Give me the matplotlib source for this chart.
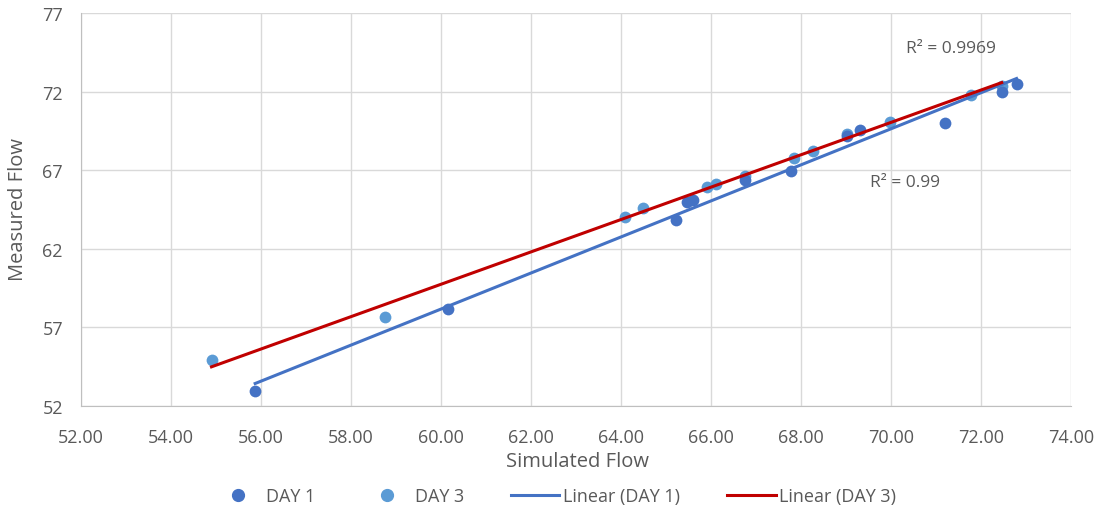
import numpy as np
import matplotlib
matplotlib.use("Agg")
import matplotlib.pyplot as plt
from matplotlib.lines import Line2D

plt.rcParams['font.family'] = ['Open Sans', 'DejaVu Sans']

# DAY 1 (simulated, measured)
day1_x = [55.87, 60.16, 65.22, 65.47, 65.61, 66.76, 67.77, 69.02, 69.30, 71.20, 72.46, 72.79]
day1_y = [52.93, 58.14, 63.84, 65.00, 65.13, 66.35, 66.98, 69.20, 69.58, 70.00, 71.96, 72.49]
# DAY 3
day3_x = [54.90, 58.76, 64.09, 64.48, 65.90, 66.11, 66.76, 67.85, 68.27, 69.02, 69.98, 71.77, 72.46]
day3_y = [54.90, 57.66, 64.02, 64.59, 65.92, 66.13, 66.60, 67.80, 68.25, 69.30, 70.05, 71.80, 72.38]

x_ticks = np.arange(52, 74.1, 2)
y_ticks = [52, 57, 62, 67, 72, 77]

c_day1 = '#4472C4'
c_day3 = '#5B9BD5'
c_red = '#C00000'
txt = '#595959'

W, H = 1100, 510
fig = plt.figure(figsize=(11, 5.1), dpi=100)
ax = fig.add_axes([81 / W, 1 - 407 / H, 990 / W, 393 / H])

ax.scatter(day3_x, day3_y, s=72, color=c_day3, zorder=3, linewidths=0)
ax.scatter(day1_x, day1_y, s=72, color=c_day1, zorder=3, linewidths=0)

# trendlines
for xs, ys, col in [(day1_x, day1_y, c_day1), (day3_x, day3_y, c_red)]:
    k, b = np.polyfit(xs, ys, 1)
    xx = np.array([min(xs), max(xs)])
    ax.plot(xx, k * xx + b, color=col, lw=2.2, zorder=4)

fig.text(951 / W, 1 - 49 / H, 'R² = 0.9969', color=txt, fontsize=12.5, ha='center', va='center')
fig.text(905 / W, 1 - 183 / H, 'R² = 0.99', color=txt, fontsize=12.5, ha='center', va='center')

ax.set_xlim(52, 74)
ax.set_ylim(52, 77)
ax.set_xticks(x_ticks)
ax.set_xticklabels([f'{v:.2f}' for v in x_ticks])
ax.set_yticks(y_ticks)
ax.grid(True, color='#D9D9D9', lw=1)
ax.set_axisbelow(True)
ax.tick_params(length=0, labelsize=13, labelcolor=txt)
ax.tick_params(axis='x', pad=16)
ax.tick_params(axis='y', pad=13)
for s in ['top', 'right']:
    ax.spines[s].set_visible(False)
for s in ['left', 'bottom']:
    ax.spines[s].set_color('#BFBFBF')

fig.text(577 / W, 1 - 462 / H, 'Simulated Flow', fontsize=14.5, color=txt, ha='center', va='center')
fig.text(18 / W, 1 - 210 / H, 'Measured Flow', fontsize=14.5, color=txt, ha='center', va='center',
         rotation=90)

handles = [
    Line2D([], [], marker='o', ls='none', color=c_day1, markersize=8.5),
    Line2D([], [], marker='o', ls='none', color=c_day3, markersize=8.5),
    Line2D([], [], color=c_day1, lw=2.2),
    Line2D([], [], color=c_red, lw=2.2),
]
fig.legend(handles, ['DAY 1', 'DAY 3', 'Linear (DAY 1)', 'Linear (DAY 3)'],
           loc='center', bbox_to_anchor=(555 / W, 1 - 497 / H), ncol=4, frameon=False,
           fontsize=13, labelcolor=txt, handlelength=2.7, handletextpad=0.2,
           columnspacing=2.6, borderpad=0, borderaxespad=0)

fig.savefig('out.png', dpi=100)
